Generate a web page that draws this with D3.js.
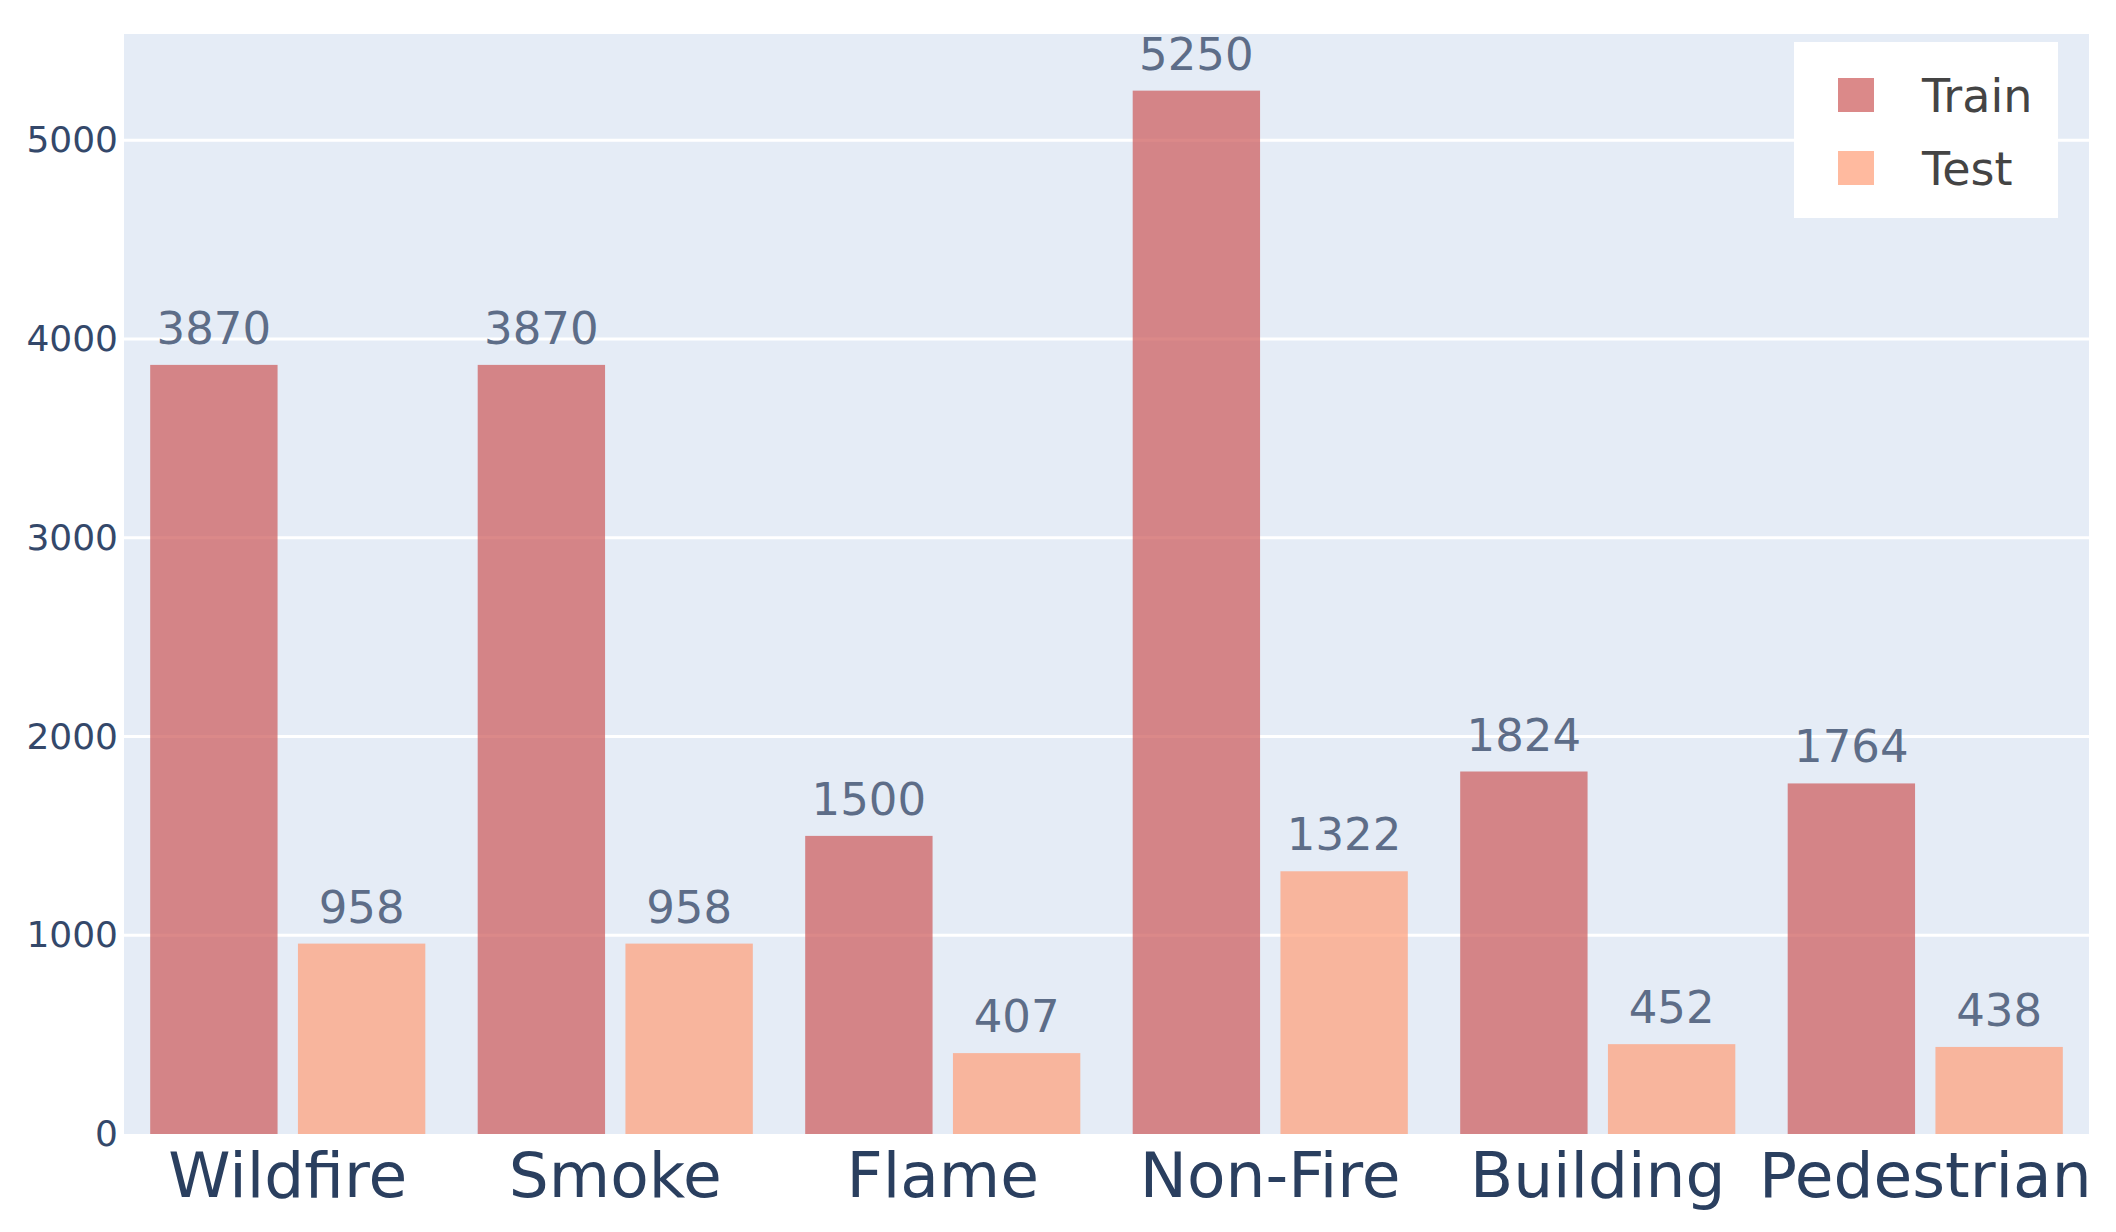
<!DOCTYPE html>
<html>
<head>
<meta charset="utf-8">
<script src="https://cdn.jsdelivr.net/npm/d3@7"></script>
<style>
  html, body { margin: 0; padding: 0; background: #ffffff; }
  svg { display: block; }
</style>
</head>
<body>
<svg id="chart" width="2116" height="1232"></svg>
<script>
const categories = ["Wildfire", "Smoke", "Flame", "Non-Fire", "Building", "Pedestrian"];
const seriesNames = ["Train", "Test"];
const trainValues = [3870, 3870, 1500, 5250, 1824, 1764];
const testValues = [958, 958, 407, 1322, 452, 438];
const yTicks = [0, 1000, 2000, 3000, 4000, 5000];
const yMax = 5535;

const colors = { Train: "#cd5c5c", Test: "#ffa07a" };
const font = "'DejaVu Sans', Verdana, sans-serif";

const svg = d3.select("#chart");
const plot = { left: 124, right: 2089, top: 34, bottom: 1134 };

const x0 = d3.scaleBand().domain(categories)
  .range([plot.left, plot.right]).paddingInner(0.16).paddingOuter(0.08);
const x1 = d3.scaleBand().domain(seriesNames)
  .range([0, x0.bandwidth()]).paddingInner(0.138).paddingOuter(0);
const y = d3.scaleLinear().domain([0, yMax]).range([plot.bottom, plot.top]);

// background
svg.append("rect")
  .attr("x", plot.left).attr("y", plot.top)
  .attr("width", plot.right - plot.left).attr("height", plot.bottom - plot.top)
  .attr("fill", "#e5ecf6");

// gridlines
svg.append("g").selectAll("line").data(yTicks.filter(d => d > 0)).join("line")
  .attr("x1", plot.left).attr("x2", plot.right)
  .attr("y1", d => y(d)).attr("y2", d => y(d))
  .attr("stroke", "#ffffff").attr("stroke-width", 3);

// y axis
const yAxis = d3.axisLeft(y).tickValues(yTicks).tickSize(0).tickPadding(6).tickFormat(d3.format("d"));
const yg = svg.append("g").attr("transform", `translate(${plot.left},0)`).call(yAxis);
yg.select(".domain").remove();
yg.selectAll("text").attr("font-family", font).attr("font-size", 36).attr("fill", "#34486a");

// x axis
const xAxis = d3.axisBottom(x0).tickSize(0).tickPadding(18);
const xg = svg.append("g").attr("transform", `translate(0,${plot.bottom})`).call(xAxis);
xg.select(".domain").remove();
xg.selectAll("text").attr("font-family", font).attr("font-size", 63).attr("fill", "#2a3f5f")
  .attr("dy", "0.71em");

// data rows
const rows = categories.map((c, i) => ({ category: c, Train: trainValues[i], Test: testValues[i] }));

const groups = svg.append("g").selectAll("g").data(rows).join("g")
  .attr("transform", d => `translate(${x0(d.category)},0)`);

groups.selectAll("rect").data(d => seriesNames.map(s => ({ s, v: d[s] }))).join("rect")
  .attr("x", d => x1(d.s)).attr("width", x1.bandwidth())
  .attr("y", d => y(d.v)).attr("height", d => y(0) - y(d.v))
  .attr("fill", d => colors[d.s]).attr("fill-opacity", 0.72);

groups.selectAll("text.val").data(d => seriesNames.map(s => ({ s, v: d[s] }))).join("text")
  .attr("class", "val")
  .attr("x", d => x1(d.s) + x1.bandwidth() / 2)
  .attr("y", d => y(d.v) - 21)
  .attr("text-anchor", "middle")
  .attr("font-family", font).attr("font-size", 45).attr("fill", "#5d6d88")
  .text(d => d.v);

// legend
const legend = svg.append("g");
legend.append("rect").attr("x", 1794).attr("y", 42).attr("width", 264).attr("height", 176).attr("fill", "#ffffff");
const items = legend.selectAll("g").data(seriesNames).join("g")
  .attr("transform", (d, i) => `translate(1838,${95 + i * 73})`);
items.append("rect").attr("x", 0).attr("y", -17).attr("width", 36).attr("height", 34)
  .attr("fill", d => colors[d]).attr("fill-opacity", 0.72);
items.append("text").attr("x", 84).attr("y", 0).attr("dy", "0.36em")
  .attr("font-family", font).attr("font-size", 46).attr("fill", "#444444")
  .text(d => d);
</script>
</body>
</html>
